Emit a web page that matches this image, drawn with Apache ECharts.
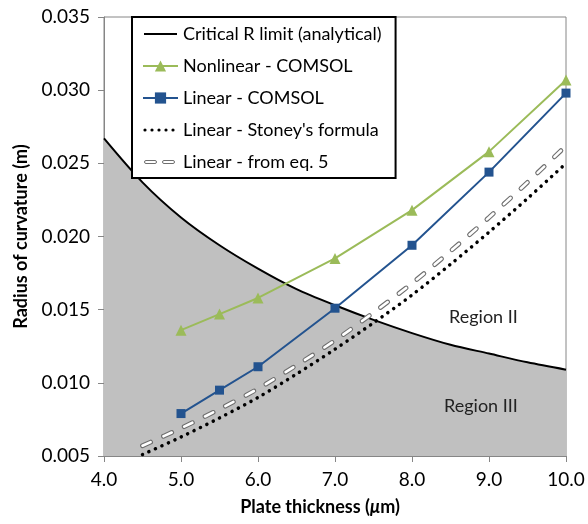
<!DOCTYPE html>
<html>
<head>
<meta charset="utf-8">
<script src="https://cdn.jsdelivr.net/npm/echarts@6/dist/echarts.min.js"></script>
<style>
  html, body { margin: 0; padding: 0; background: #fff; }
  #chart { width: 588px; height: 524px; }
</style>
</head>
<body>
<div id="chart"></div>
<script>
// 横轴刻度
const xTicks = [4, 5, 6, 7, 8, 9, 10];
const yTicks = [0.005, 0.010, 0.015, 0.020, 0.025, 0.030, 0.035];

// 临界半径曲线
const thickCrit = [4.0, 4.5, 5.0, 5.5, 6.0, 6.5, 7.0, 7.5, 8.0, 8.5, 9.0, 9.5, 10.0];
const critR = [0.0267, 0.0237, 0.0213, 0.0194, 0.0178, 0.0164, 0.0153, 0.0143, 0.0134, 0.0126, 0.0120, 0.0114, 0.0109];

// COMSOL 结果
const thickSim = [5.0, 5.5, 6.0, 7.0, 8.0, 9.0, 10.0];
const nonlinR = [0.0136, 0.0147, 0.0158, 0.0185, 0.0218, 0.0258, 0.0307];
const linR = [0.0079, 0.0095, 0.0111, 0.0151, 0.0194, 0.0244, 0.0298];

// 公式结果
const thickForm = [4.5, 5.0, 5.5, 6.0, 6.5, 7.0, 7.5, 8.0, 8.5, 9.0, 9.5, 10.0];
const stoneyR = [0.0051, 0.0063, 0.0076, 0.0090, 0.0106, 0.0123, 0.0141, 0.0160, 0.0181, 0.0203, 0.0226, 0.0250];
const eq5R = [0.0057, 0.0069, 0.0082, 0.0096, 0.0112, 0.0129, 0.0148, 0.0168, 0.0190, 0.0213, 0.0237, 0.0262];

const names = [
  'Critical R limit (analytical)',
  'Nonlinear - COMSOL',
  'Linear - COMSOL',
  "Linear - Stoney's formula",
  'Linear - from eq. 5'
];

const pair = (xs, ys) => xs.map((x, i) => [x, ys[i]]);
const font = 'Lato';
const axisGrey = '#868686';

// 图例图标（路径带角点，保证按 35x14 缩放）
const box = 'M0 0L0 0M35 14L35 14';
const dot = cx => `M${cx - 1.6} 7A1.6 1.6 0 1 0 ${cx + 1.6} 7A1.6 1.6 0 1 0 ${cx - 1.6} 7Z`;
const iconSolid = `path://${box}M1 6L34 6L34 8L1 8Z`;
const iconDots = `path://${box}${[2, 9, 16, 23, 30].map(dot).join('')}`;
const iconHollow = `path://${box}M3 5.5L12 5.5A1.5 1.5 0 0 1 12 8.5L3 8.5A1.5 1.5 0 0 1 3 5.5ZM21 5.5L30 5.5A1.5 1.5 0 0 1 30 8.5L21 8.5A1.5 1.5 0 0 1 21 5.5Z`;

const option = {
  animation: false,
  backgroundColor: '#fff',
  grid: { left: 104, right: 22, top: 17, bottom: 68, show: true, borderColor: axisGrey, borderWidth: 1 },
  xAxis: {
    type: 'value',
    min: xTicks[0], max: xTicks[xTicks.length - 1], interval: 1,
    axisLine: { lineStyle: { color: axisGrey } },
    axisTick: { length: 6, lineStyle: { color: axisGrey } },
    splitLine: { show: false },
    axisLabel: { margin: 14, fontFamily: font, fontSize: 19, color: '#000', formatter: v => v.toFixed(1) },
    name: 'Plate thickness ({it|μ}m)',
    nameLocation: 'middle',
    nameGap: 42,
    nameTextStyle: {
      fontFamily: font, fontSize: 18, fontWeight: 'bold', color: '#000', padding: [0, 30, 0, 0],
      rich: { it: { fontFamily: font, fontSize: 18, fontWeight: 'bold', fontStyle: 'italic', color: '#000' } }
    }
  },
  yAxis: {
    type: 'value',
    min: yTicks[0], max: yTicks[yTicks.length - 1], interval: 0.005,
    axisLine: { show: true, lineStyle: { color: axisGrey } },
    axisTick: { show: true, length: 6, lineStyle: { color: axisGrey } },
    splitLine: { show: false },
    axisLabel: { margin: 14, fontFamily: font, fontSize: 19, color: '#000', formatter: v => v.toFixed(3) },
    name: 'Radius of curvature (m)',
    nameLocation: 'middle',
    nameGap: 74,
    nameTextStyle: { fontFamily: font, fontSize: 18, fontWeight: 'bold', color: '#000' }
  },
  legend: {
    orient: 'vertical',
    left: 132, top: 17,
    itemWidth: 35, itemHeight: 14, itemGap: 14,
    padding: [8, 14, 7, 10],
    borderColor: '#000', borderWidth: 2, borderRadius: 0,
    backgroundColor: '#fff',
    textStyle: { fontFamily: font, fontSize: 18, color: '#000' },
    data: [
      { name: names[0], icon: iconSolid, itemStyle: { color: '#000', borderWidth: 0 } },
      names[1],
      names[2],
      { name: names[3], icon: iconDots, itemStyle: { color: '#000', borderWidth: 0 } },
      { name: names[4], icon: iconHollow, itemStyle: { color: '#fff', borderColor: '#6f6f6f', borderWidth: 1 } }
    ]
  },
  graphic: [
    { type: 'text', z: 10, left: 449, top: 308, style: { text: 'Region II', fontFamily: font, fontSize: 18, fill: '#222' } },
    { type: 'text', z: 10, left: 444, top: 397, style: { text: 'Region III', fontFamily: font, fontSize: 18, fill: '#222' } }
  ],
  series: [
    {
      name: names[0], type: 'line', data: pair(thickCrit, critR),
      smooth: 0.3, symbol: 'none',
      lineStyle: { color: '#000', width: 2 },
      itemStyle: { color: '#000' },
      areaStyle: { color: '#c0c0c0', opacity: 1, origin: 'start' }
    },
    {
      name: names[4], type: 'line', data: pair(thickForm, eq5R),
      smooth: 0.3, symbol: 'none',
      lineStyle: { color: '#6f6f6f', width: 4.8, type: [9, 14], cap: 'round' },
      itemStyle: { color: '#6f6f6f' }
    },
    {
      // 空心虚线的白色内芯
      name: 'eq5-inner', type: 'line', data: pair(thickForm, eq5R),
      smooth: 0.3, symbol: 'none', silent: true,
      lineStyle: { color: '#fff', width: 2.6, type: [9, 14], cap: 'round' }
    },
    {
      name: names[3], type: 'line', data: pair(thickForm, stoneyR),
      smooth: 0.3, symbol: 'none',
      lineStyle: { color: '#000', width: 3.5, type: [0.1, 7], cap: 'round' },
      itemStyle: { color: '#000' }
    },
    {
      name: names[2], type: 'line', data: pair(thickSim, linR),
      symbol: 'rect', symbolSize: 9,
      lineStyle: { color: '#23538f', width: 2 },
      itemStyle: { color: '#23538f' }
    },
    {
      name: names[1], type: 'line', data: pair(thickSim, nonlinR),
      symbol: 'triangle', symbolSize: 11,
      lineStyle: { color: '#9bbb59', width: 2 },
      itemStyle: { color: '#9bbb59' }
    }
  ]
};

const myChart = echarts.init(document.getElementById('chart'));
myChart.setOption(option);
</script>
</body>
</html>
